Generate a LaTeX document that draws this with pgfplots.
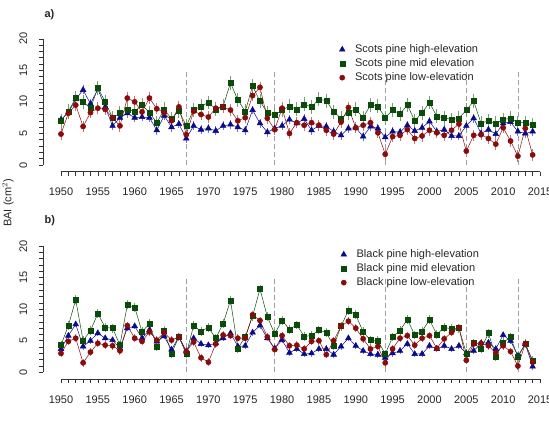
\documentclass[border=0pt]{standalone}
\usepackage{fontspec}
\setmainfont{Liberation Sans}
\usepackage{pgfplots}
\usepackage{pgfplotstable}
\pgfplotsset{compat=1.18}
\definecolor{cblue}{RGB}{10,10,140}
\definecolor{cgreen}{RGB}{10,75,10}
\definecolor{cred}{RGB}{140,10,10}

\pgfplotstableread{
year hi mid low
1950 7.2 7.0 4.9
1951 8.3 8.5 8.2
1952 10.4 10.6 9.5
1953 11.9 10.0 6.1
1954 9.7 9.0 8.3
1955 12.0 12.2 9.0
1956 9.2 10.0 8.8
1957 6.2 7.5 7.5
1958 7.5 8.2 6.2
1959 8.2 8.8 10.6
1960 7.5 8.5 10.0
1961 7.6 9.5 8.4
1962 7.5 8.3 10.6
1963 5.5 6.7 8.9
1964 7.8 8.8 8.3
1965 6.0 7.3 7.0
1966 6.5 8.6 9.2
1967 4.2 6.2 4.8
1968 6.2 8.7 8.5
1969 5.6 9.3 8.0
1970 5.8 9.9 7.6
1971 5.4 8.8 9.0
1972 6.2 9.3 9.2
1973 6.4 13.0 8.7
1974 6.0 10.3 7.0
1975 5.5 8.5 7.5
1976 8.7 12.5 11.0
1977 6.6 10.1 12.3
1978 5.2 8.3 7.4
1979 5.8 7.9 5.6
1980 6.2 8.7 9.0
1981 7.2 9.3 5.0
1982 6.6 8.8 6.7
1983 7.3 9.6 6.3
1984 5.5 9.2 6.7
1985 6.2 10.4 6.3
1986 6.1 10.2 5.5
1987 5.3 8.4 4.9
1988 4.7 7.4 6.8
1989 5.8 8.3 9.1
1990 5.9 8.8 5.9
1991 4.5 7.5 6.3
1992 6.1 9.5 6.7
1993 5.8 9.3 5.1
1994 4.4 7.5 1.7
1995 5.3 8.7 4.5
1996 5.2 8.1 4.7
1997 6.3 9.5 5.6
1998 5.4 7.0 4.2
1999 5.9 8.3 4.6
2000 6.9 9.9 5.5
2001 5.3 7.7 5.1
2002 5.6 7.5 4.7
2003 4.6 7.2 5.5
2004 4.6 7.4 6.5
2005 6.2 8.7 2.2
2006 7.4 10.1 4.7
2007 5.0 6.6 4.8
2008 5.6 7.0 4.2
2009 4.9 6.6 3.3
2010 6.6 7.2 5.9
2011 6.8 7.4 3.8
2012 5.3 6.7 1.4
2013 5.0 6.7 5.8
2014 5.3 6.3 1.6
}\scots

\pgfplotstableread{
year hi mid low
1950 3.7 4.3 3.0
1951 5.8 7.4 4.9
1952 7.6 11.5 5.4
1953 4.1 5.0 1.5
1954 5.0 6.6 3.2
1955 6.2 9.3 4.6
1956 5.4 7.1 4.3
1957 5.1 7.0 4.2
1958 3.8 4.3 3.4
1959 7.0 10.7 7.4
1960 7.3 10.3 5.4
1961 5.4 6.4 4.9
1962 6.7 7.7 6.4
1963 4.9 4.1 5.1
1964 5.7 6.6 6.3
1965 3.6 3.0 5.1
1966 5.6 5.6 5.6
1967 3.3 2.9 3.3
1968 5.4 7.4 4.8
1969 4.5 6.5 2.3
1970 4.3 7.1 1.6
1971 4.6 5.4 4.5
1972 5.4 7.7 5.9
1973 6.2 11.4 5.8
1974 4.1 3.8 5.4
1975 4.2 5.6 5.4
1976 6.3 8.9 9.1
1977 7.4 13.2 8.2
1978 5.4 8.8 5.6
1979 3.8 6.1 3.6
1980 5.1 8.2 5.8
1981 3.1 6.8 4.2
1982 3.7 7.5 4.3
1983 2.9 5.7 3.7
1984 3.0 5.8 4.9
1985 3.7 6.7 5.0
1986 3.7 6.3 2.8
1987 2.8 4.2 5.0
1988 4.1 7.3 7.3
1989 5.4 9.8 8.1
1990 4.2 9.1 7.0
1991 3.4 6.4 5.3
1992 2.9 5.1 3.7
1993 2.8 5.0 4.1
1994 2.3 2.9 1.5
1995 3.0 5.6 3.7
1996 3.4 6.6 5.4
1997 4.5 8.4 5.8
1998 2.9 5.9 4.3
1999 2.9 6.5 5.4
2000 4.2 8.3 5.8
2001 3.7 6.0 3.8
2002 4.2 7.1 5.3
2003 3.7 6.9 6.3
2004 4.2 7.0 7.1
2005 3.0 3.0 1.9
2006 3.4 4.6 4.5
2007 4.6 3.7 4.6
2008 4.7 6.2 4.2
2009 3.7 2.5 3.1
2010 5.9 4.7 4.2
2011 5.0 5.6 3.3
2012 2.6 2.4 1.0
2013 4.5 4.5 4.5
2014 0.9 1.9 1.6
}\black

\pgfplotsset{
  panel/.style={
    scale only axis, width=508.5pt, height=137.9pt,
    xmin=1947.6, xmax=2016.6, ymin=-1.05, ymax=20.8,
    axis x line*=bottom, axis y line*=left,
    axis line style={draw=none},
    xtick={1950,1955,...,2015}, minor x tick num=4,
    ytick={0,5,...,20}, minor y tick num=4,
    tick align=outside, major tick length=4pt, minor tick length=4pt,
    every tick/.style={black!80, line width=0.5pt},
    /pgf/number format/assume math mode=true,
    /pgf/number format/1000 sep={},
    ticklabel style={font=\fontsize{11}{13}\selectfont, text=black!85},
    xticklabel shift=9pt,
    yticklabel style={rotate=90, anchor=south},
    yticklabel shift=8.5pt,
    clip=false,
    legend style={draw=none, fill=none, font=\fontsize{11}{13}\selectfont,
      text=black!85, anchor=north west, row sep=0.6pt,
      /tikz/every odd column/.append style={column sep=8pt}},
    legend cell align=left,
  },
  hi/.style={cblue, line width=0.5pt, mark=triangle*, mark size=3.3pt,
    error bars/y dir=both, error bars/y fixed=0.7,
    error bars/error bar style={line width=0.9pt, cblue!55}, error bars/error mark=none},
  mid/.style={cgreen, line width=0.5pt, mark=square*, mark size=2.5pt,
    error bars/y dir=both, error bars/y fixed=1.1,
    error bars/error bar style={line width=0.9pt, cgreen!55}, error bars/error mark=none},
  low/.style={cred, line width=0.5pt, mark=*, mark size=2.6pt,
    error bars/y dir=both, error bars/y fixed=0.9,
    error bars/error bar style={line width=0.9pt, cred!55}, error bars/error mark=none},
  vl/.style={gray!75, line width=0.6pt, dash pattern=on 5pt off 3pt, forget plot},
}

\begin{document}
\begin{tikzpicture}
\path[use as bounding box] (0pt,0pt) rectangle (549pt,-421pt);
\clip (0pt,0pt) rectangle (549pt,-421pt);

\begin{axis}[panel, at={(43.3pt,-171.6pt)}, anchor=south west,
  legend style={at={(0.576,0.950)}}]
\addlegendimage{only marks, mark=triangle*, mark size=3.3pt, cblue}
\addlegendimage{only marks, mark=square*, mark size=2.5pt, cgreen}
\addlegendimage{only marks, mark=*, mark size=2.6pt, cred}
\addplot[vl] coordinates {(1967,0) (1967,15)};
\addplot[vl] coordinates {(1979,0) (1979,15)};
\addplot[vl] coordinates {(1994,0) (1994,15)};
\addplot[vl] coordinates {(2005,0) (2005,15)};
\addplot[vl] coordinates {(2012,0) (2012,15)};
\addplot[hi, forget plot] table[x=year, y=hi] {\scots};
\addplot[mid, forget plot] table[x=year, y=mid] {\scots};
\addplot[low, forget plot] table[x=year, y=low] {\scots};
\legend{Scots pine high-elevation, Scots pine mid elevation, Scots pine low-elevation}
\draw[black!80, line width=0.5pt] (axis cs:1950,-1.05) -- (axis cs:2015,-1.05);
\draw[black!80, line width=0.5pt] (axis cs:1947.6,0) -- (axis cs:1947.6,20);
\end{axis}

\begin{axis}[panel, at={(43.3pt,-378.9pt)}, anchor=south west,
  legend style={at={(0.579,0.967)}}]
\addlegendimage{only marks, mark=triangle*, mark size=3.3pt, cblue}
\addlegendimage{only marks, mark=square*, mark size=2.5pt, cgreen}
\addlegendimage{only marks, mark=*, mark size=2.6pt, cred}
\addplot[vl] coordinates {(1967,0) (1967,15)};
\addplot[vl] coordinates {(1979,0) (1979,15)};
\addplot[vl] coordinates {(1994,0) (1994,15)};
\addplot[vl] coordinates {(2005,0) (2005,15)};
\addplot[vl] coordinates {(2012,0) (2012,15)};
\addplot[hi, forget plot, error bars/y fixed=0.5] table[x=year, y=hi] {\black};
\addplot[mid, forget plot, error bars/y fixed=0.7] table[x=year, y=mid] {\black};
\addplot[low, forget plot, error bars/y fixed=0.6] table[x=year, y=low] {\black};
\legend{Black pine high-elevation, Black pine mid elevation, Black pine low-elevation}
\draw[black!80, line width=0.5pt] (axis cs:1950,-1.05) -- (axis cs:2015,-1.05);
\draw[black!80, line width=0.5pt] (axis cs:1947.6,0) -- (axis cs:1947.6,20);
\end{axis}

\node[font=\fontsize{11}{13}\selectfont\bfseries, anchor=west, text=black!85] at (41pt,-15pt) {a)};
\node[font=\fontsize{11}{13}\selectfont\bfseries, anchor=west, text=black!85] at (41pt,-221pt) {b)};
\node[font=\fontsize{11}{13}\selectfont, rotate=90, text=black!85] at (8pt,-203pt) {BAI (cm$^{2}$)};
\end{tikzpicture}
\end{document}
